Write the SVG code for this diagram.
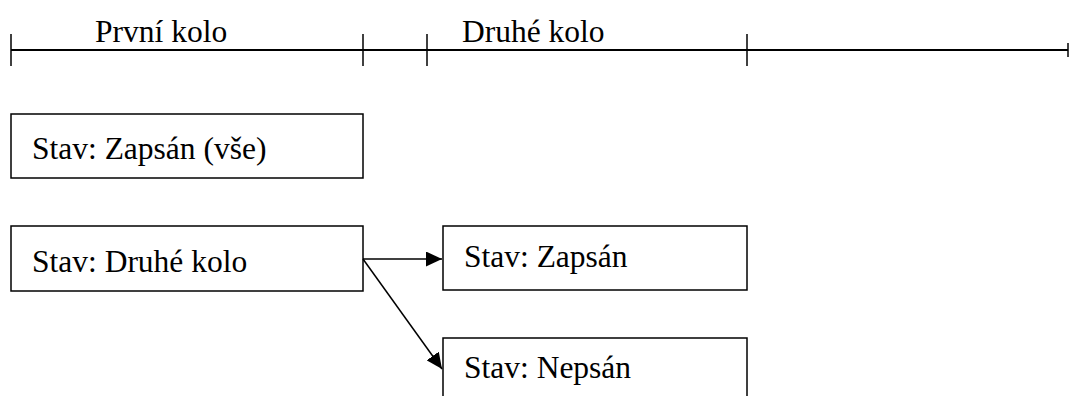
<svg xmlns="http://www.w3.org/2000/svg" width="1070" height="396" viewBox="0 0 1070 396">
  <style>
    text { font-family: 'Liberation Serif', 'Times New Roman', serif; font-size: 31.5px; fill: #000; }
    .box { fill: #fff; stroke: #000; stroke-width: 1.5; }
    .tick { stroke: #000; stroke-width: 1.5; }
    .conn { stroke: #000; stroke-width: 1.5; fill: none; }
  </style>
  <defs>
    <marker id="arrow" viewBox="0 0 16 15" refX="16" refY="7.5" markerWidth="16" markerHeight="15" markerUnits="userSpaceOnUse" orient="auto">
      <path d="M0,0 L16,7.5 L0,15 Z" fill="#000"/>
    </marker>
  </defs>

  <!-- timeline with round markers -->
  <g id="timeline">
    <line x1="11" y1="50" x2="1068" y2="50" stroke="#000" stroke-width="2"/>
    <line class="tick" x1="11" y1="34" x2="11" y2="66"/>
    <line class="tick" x1="363" y1="34" x2="363" y2="66"/>
    <line class="tick" x1="427" y1="34" x2="427" y2="66"/>
    <line class="tick" x1="747" y1="34" x2="747" y2="66"/>
    <line class="tick" x1="1068" y1="43" x2="1068" y2="57"/>
    <text x="95" y="42">První kolo</text>
    <text x="462" y="42">Druhé kolo</text>
  </g>

  <g id="node-zapsan-vse">
    <rect class="box" x="11" y="114" width="352" height="64"/>
    <text x="32" y="159">Stav: Zapsán (vše)</text>
  </g>

  <g id="node-druhe-kolo">
    <rect class="box" x="11" y="226" width="352" height="65"/>
    <text x="32" y="272">Stav: Druhé kolo</text>
  </g>

  <g id="node-zapsan">
    <rect class="box" x="443" y="226" width="304" height="64"/>
    <text x="464" y="267">Stav: Zapsán</text>
  </g>

  <g id="node-nepsan">
    <rect class="box" x="443" y="338" width="304" height="70"/>
    <text x="464" y="378">Stav: Nepsán</text>
  </g>

  <g id="connectors">
    <line class="conn" x1="363" y1="259" x2="442" y2="259" marker-end="url(#arrow)"/>
    <line class="conn" x1="363" y1="259" x2="442" y2="369" marker-end="url(#arrow)"/>
  </g>
</svg>
